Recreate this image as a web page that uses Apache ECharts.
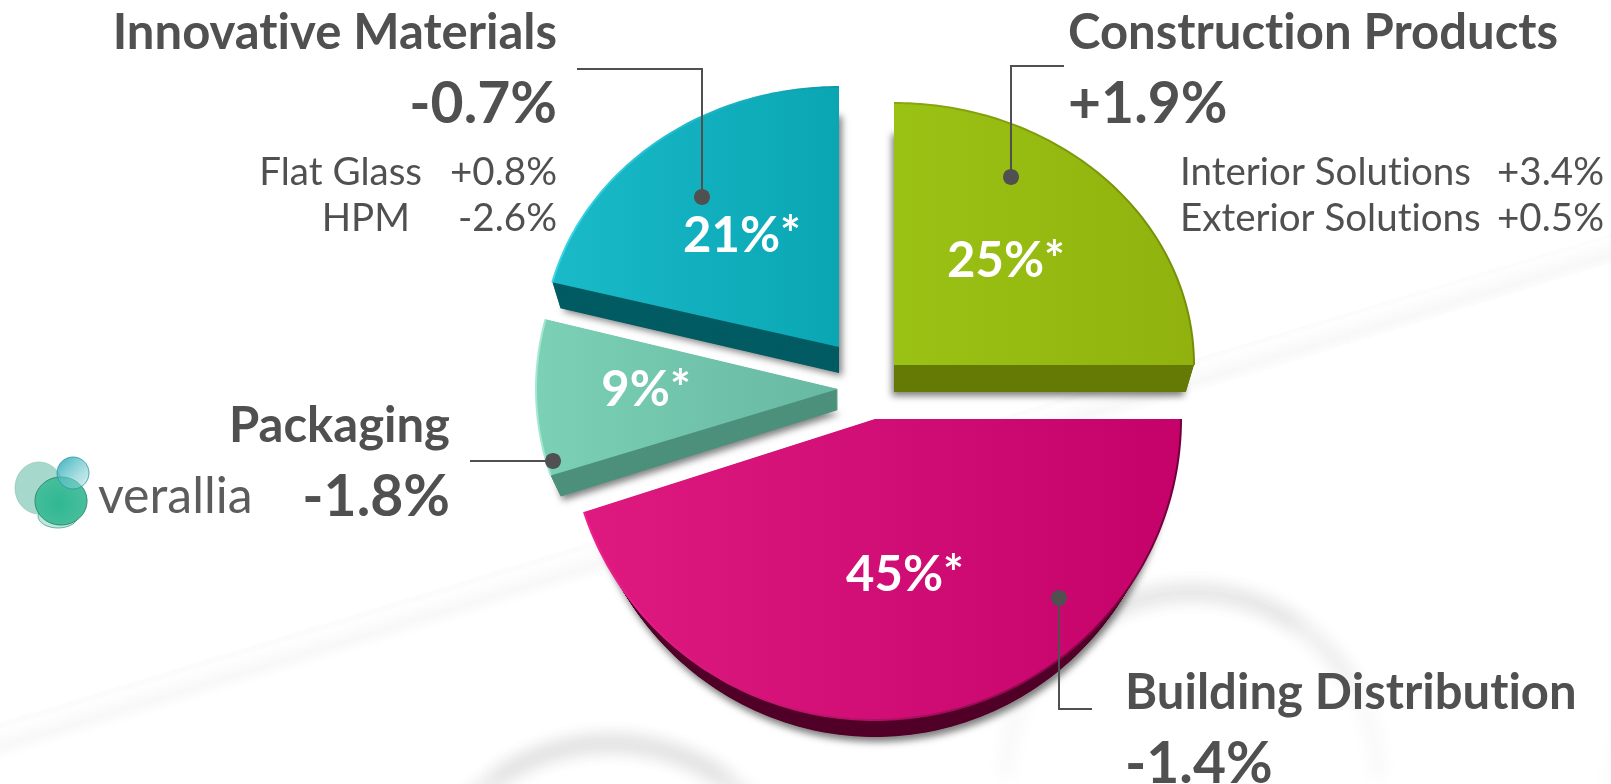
<!DOCTYPE html>
<html>
<head>
<meta charset="utf-8">
<style>html,body{margin:0;padding:0;background:#fff}#chart{width:1611px;height:784px}</style>
<script src="https://cdn.jsdelivr.net/npm/echarts@6/dist/echarts.min.js"></script>
</head>
<body>
<div id="chart"></div>
<script>
// Sales by sector: share of the group and like-for-like growth
const sectors = ['Construction Products', 'Building Distribution', 'Packaging', 'Innovative Materials'];
const shares = [25, 45, 9, 21];
const growth = ['+1.9%', '-1.4%', '-1.8%', '-0.7%'];
const subNames = [['Interior Solutions', 'Exterior Solutions'], [], [], ['Flat Glass', 'HPM']];
const subGrowth = [['+3.4%', '+0.5%'], [], [], ['+0.8%', '-2.6%']];

const FONT = 'Lato, Carlito, "Open Sans", sans-serif';
const INK = '#505050';

// Lato joins "ti" into a ligature; a tiny letter spacing keeps the glyphs apart
const nativeFillText = CanvasRenderingContext2D.prototype.fillText;
CanvasRenderingContext2D.prototype.fillText = function (text, x, y, maxWidth) {
  this.letterSpacing = '0.01px';
  return maxWidth === undefined
    ? nativeFillText.call(this, text, x, y)
    : nativeFillText.call(this, text, x, y, maxWidth);
};

// Exploded position and tilted footprint of each wedge
const wedgeLayout = [
  { cx: 894, cy: 365, rx: 300, ry: 262, depth: 27, inset: 0.973, shadow: [-2, 4],
    fill: ['#9ac214', '#91b20e'], side: '#647a05', rim: ['#8aa80e', '#738e08'],
    labelX: 1006, labelY: 261 },
  { cx: 875, cy: 419, rx: 306, ry: 301, depth: 17, inset: 0.96, shadow: [2, 5],
    fill: ['#de1a80', '#c4026a'], side: '#520029', rim: ['#f0208f', '#6e0038'],
    labelX: 905, labelY: 575 },
  { cx: 838, cy: 389, rx: 302, ry: 280, depth: 21, inset: 0.965, shadow: [2, 4],
    fill: ['#7bd0b5', '#67b9a1'], side: '#4d917c', rim: ['#a4e8d4', '#7bd0b5'],
    labelX: 646, labelY: 390 },
  { cx: 839, cy: 347, rx: 296, ry: 260, depth: 26, inset: 0.972, shadow: [3, 3],
    fill: ['#1abac8', '#0aa6b4'], side: '#035c63', rim: ['#38d6e8', '#0a9aa8'],
    labelX: 742, labelY: 236 }
];

// Leader line from each callout down to the dot on its wedge
const leaders = [
  [[1064, 66], [1011, 66], [1011, 177]],
  [[1092, 709], [1059, 709], [1059, 598]],
  [[470, 461], [553, 461]],
  [[577, 69], [702, 69], [702, 197]]
];

// Anchors of the callout text blocks
const calloutLayout = [
  { align: 'left', x: 1068, titleY: 33, pctY: 105,
    rows: [{ nameX: 1180, nameAlign: 'left', valX: 1604, y: 173 }, { nameX: 1180, nameAlign: 'left', valX: 1604, y: 219 }] },
  { align: 'left', x: 1125, titleY: 693, pctY: 765, rows: [] },
  { align: 'right', x: 450, titleY: 426, pctY: 498, rows: [] },
  { align: 'right', x: 557, titleY: 33, pctY: 105,
    rows: [{ nameX: 422, nameAlign: 'right', valX: 557, y: 173 }, { nameX: 410, nameAlign: 'right', valX: 557, y: 219 }] }
];

const TITLE_FONT = 'bold 49px ' + FONT;
const PCT_FONT = 'bold 57px ' + FONT;
const SUB_FONT = '38.5px ' + FONT;
const SHARE_FONT = 'bold 49px ' + FONT;

const total = shares.reduce((a, b) => a + b, 0);

function arcPoints(l, from, to, scale, dy) {
  const pts = [];
  const steps = Math.max(2, Math.ceil((to - from) * 180 / Math.PI));
  for (let i = 0; i <= steps; i++) {
    const t = from + (to - from) * i / steps;
    pts.push([l.cx + l.rx * scale * Math.sin(t), l.cy + dy - l.ry * Math.cos(t)]);
  }
  return pts;
}

function renderWedge(params, api) {
  const i = params.dataIndex;
  const l = wedgeLayout[i];
  const share = api.value(0);
  let before = 0;
  for (let k = 0; k < i; k++) before += shares[k];
  const from = before / total * Math.PI * 2;
  const to = (before + share) / total * Math.PI * 2;
  const children = [];

  // Thickness: stacked copies of the face narrowing toward the base
  for (let d = l.depth; d > 0; d -= 0.5) {
    const s = 1 - (1 - l.inset) * d / l.depth;
    const base = { fill: l.side };
    if (d === l.depth) {
      base.shadowBlur = 7;
      base.shadowColor = 'rgba(0,0,0,0.5)';
      base.shadowOffsetX = l.shadow[0];
      base.shadowOffsetY = l.shadow[1];
    }
    children.push({
      type: 'polygon',
      shape: { points: [[l.cx, l.cy + d]].concat(arcPoints(l, from, to, s, d)) },
      style: base
    });
  }

  const arc = arcPoints(l, from, to, 1, 0);
  const xs = arc.map(p => p[0]).concat(l.cx);
  const x0 = Math.min.apply(null, xs);
  const x1 = Math.max.apply(null, xs);
  const horizontal = (a, b) => ({
    type: 'linear', global: true, x: x0, y: 0, x2: x1, y2: 0,
    colorStops: [{ offset: 0, color: a }, { offset: 1, color: b }]
  });
  children.push({
    type: 'polygon',
    shape: { points: [[l.cx, l.cy]].concat(arc) },
    style: { fill: horizontal(l.fill[0], l.fill[1]) }
  });
  children.push({
    type: 'polyline',
    shape: { points: arc },
    style: { fill: 'none', stroke: horizontal(l.rim[0], l.rim[1]), lineWidth: 2 }
  });

  children.push({
    type: 'text',
    style: {
      text: share + '%*', x: l.labelX, y: l.labelY, fill: '#fff',
      font: SHARE_FONT, textAlign: 'center', textVerticalAlign: 'middle'
    }
  });
  return { type: 'group', children: children };
}

function renderCallout(params, api) {
  const i = params.dataIndex;
  const c = calloutLayout[i];
  const path = leaders[i];
  const dot = path[path.length - 1];
  const children = [
    { type: 'polyline', shape: { points: path }, style: { fill: 'none', stroke: INK, lineWidth: 2 } },
    { type: 'ellipse', shape: { cx: dot[0], cy: dot[1], rx: 8, ry: 8 }, style: { fill: INK } },
    { type: 'text', style: { text: sectors[i], x: c.x, y: c.titleY, fill: INK, font: TITLE_FONT, textAlign: c.align, textVerticalAlign: 'middle' } },
    { type: 'text', style: { text: growth[i], x: c.x, y: c.pctY, fill: INK, font: PCT_FONT, textAlign: c.align, textVerticalAlign: 'middle' } }
  ];
  c.rows.forEach((r, k) => {
    children.push({ type: 'text', style: { text: subNames[i][k], x: r.nameX, y: r.y, fill: INK, font: SUB_FONT, textAlign: r.nameAlign, textVerticalAlign: 'middle' } });
    children.push({ type: 'text', style: { text: subGrowth[i][k], x: r.valX, y: r.y, fill: INK, font: SUB_FONT, textAlign: 'right', textVerticalAlign: 'middle' } });
  });
  return { type: 'group', children: children };
}

// Blurred ring: the stroke sits off the canvas so that only its shadow lands on it
const OFFSTAGE = 3000;
function blurredArc(cx, cy, r, fromDeg, toDeg, alpha, width, blur) {
  return {
    type: 'arc',
    shape: { cx: cx - OFFSTAGE, cy: cy, r: r, startAngle: fromDeg * Math.PI / 180, endAngle: toDeg * Math.PI / 180, clockwise: true },
    style: {
      fill: 'none', stroke: '#000', lineWidth: width,
      shadowBlur: blur, shadowOffsetX: OFFSTAGE,
      shadowColor: 'rgba(0,0,0,' + alpha + ')'
    }
  };
}
function softRing(cx, cy, r, strength) {
  return [
    blurredArc(cx, cy, r, -180, 0, 0.08 * strength, 7, 18),
    blurredArc(cx, cy, r, -150, -30, 0.12 * strength, 8, 20),
    blurredArc(cx, cy, r, -125, -55, 0.12 * strength, 8, 20)
  ];
}

// Soft backdrop: a diagonal light streak and blurred rings
const backdrop = [
  {
    type: 'polygon',
    shape: { points: [[0, 717], [1611, 234], [1611, 263], [0, 763]] },
    style: {
      fill: {
        type: 'linear', global: true, x: 800, y: 477, x2: 811, y2: 513,
        colorStops: [
          { offset: 0, color: '#ffffff' },
          { offset: 0.08, color: '#fbfbfb' },
          { offset: 0.25, color: '#fefefe' },
          { offset: 0.65, color: '#f8f8f8' },
          { offset: 1, color: '#ffffff' }
        ]
      }
    }
  }
].concat(
  softRing(610, 943, 200, 1),
  softRing(1192, 778, 186, 0.85),
  softRing(1800, 800, 192, 0.4)
);

// Verallia mark and wordmark
const logo = [
  { type: 'ellipse', shape: { cx: 39, cy: 488, rx: 24, ry: 26 },
    style: { fill: 'rgba(130,200,182,0.7)', stroke: 'rgba(120,190,170,0.5)', lineWidth: 1 } },
  { type: 'ellipse', shape: { cx: 58, cy: 516, rx: 20, ry: 12 },
    style: { fill: 'rgba(160,222,204,0.7)', stroke: 'rgba(60,150,125,0.7)', lineWidth: 1 } },
  { type: 'ellipse', shape: { cx: 61, cy: 501, rx: 26, ry: 24 },
    style: {
      fill: { type: 'radial', x: 0.45, y: 0.55, r: 0.7,
        colorStops: [{ offset: 0, color: '#2fb892' }, { offset: 1, color: '#4fbf9f' }] },
      stroke: '#2e8b73', lineWidth: 1
    } },
  { type: 'ellipse', shape: { cx: 73, cy: 473, rx: 16, ry: 16 },
    style: {
      fill: { type: 'linear', x: 0, y: 0, x2: 1, y2: 1,
        colorStops: [{ offset: 0, color: 'rgba(30,165,180,0.9)' }, { offset: 1, color: 'rgba(170,225,225,0.45)' }] },
      stroke: 'rgba(40,150,160,0.8)', lineWidth: 1
    } },
  { type: 'text', style: { text: 'verallia', x: 98, y: 497, fill: '#5c5c5c', font: '400 50px ' + FONT, textAlign: 'left', textVerticalAlign: 'middle' } }
];

const chart = echarts.init(document.getElementById('chart'), null, { renderer: 'canvas' });
chart.setOption({
  backgroundColor: '#ffffff',
  animation: false,
  graphic: { elements: backdrop.concat(logo) },
  series: [
    {
      type: 'custom',
      coordinateSystem: 'none',
      silent: true,
      z: 2,
      data: shares,
      renderItem: renderWedge
    },
    {
      type: 'custom',
      coordinateSystem: 'none',
      silent: true,
      z: 3,
      data: sectors.map((name, i) => ({ name: name, value: i })),
      renderItem: renderCallout
    }
  ]
});
</script>
</body>
</html>
